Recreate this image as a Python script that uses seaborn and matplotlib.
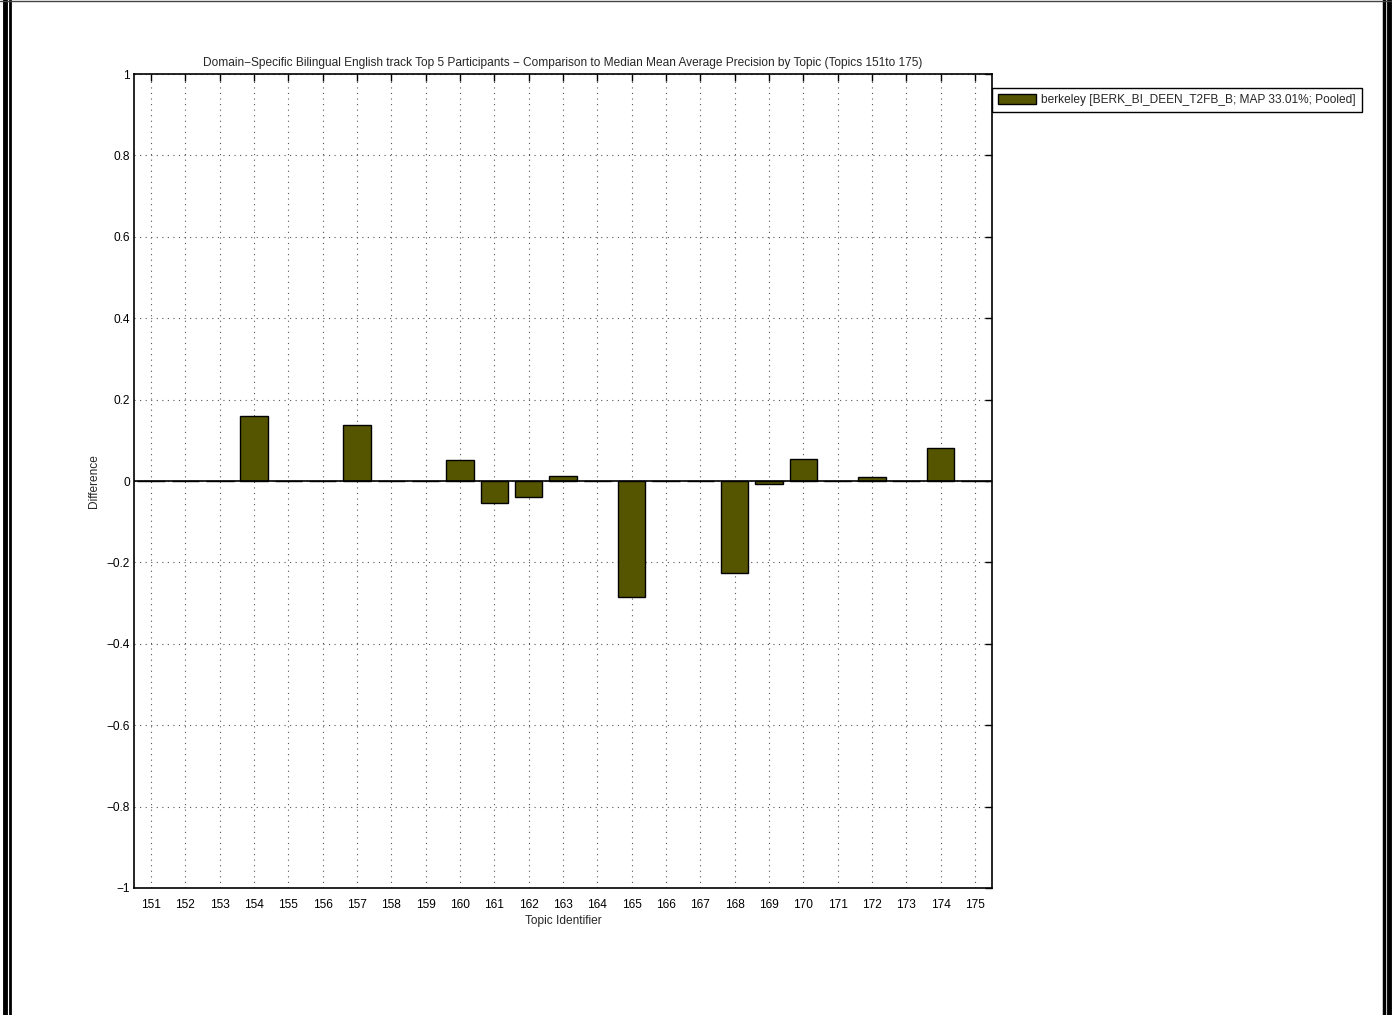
#!/usr/bin/env python3
"""Per-topic difference to median MAP, Domain-Specific bilingual English track."""

import matplotlib
matplotlib.use("Agg")
import matplotlib.pyplot as plt
from matplotlib.lines import Line2D
from matplotlib.patches import Patch
from matplotlib.ticker import FuncFormatter
import pandas as pd
import seaborn as sns

TOPICS = list(range(151, 176))
DIFFERENCE = [
    0.0, 0.0, 0.0, 0.159, 0.0, 0.0, 0.138, 0.0, 0.0, 0.052,
    -0.053, -0.040, 0.013, 0.0, -0.285, 0.0, 0.0, -0.227, -0.007, 0.055,
    0.0, 0.011, 0.0, 0.080, 0.0,
]
RUN_LABEL = "berkeley [BERK_BI_DEEN_T2FB_B; MAP 33.01%; Pooled]"
TITLE = ("Domain\u2212Specific Bilingual English track Top 5 Participants \u2212 "
         "Comparison to Median Mean Average Precision by Topic (Topics 151to 175)")
BAR_COLOUR = "#555500"

W, H = 1392, 1015
FS = 8.6

sns.set_style("white")
plt.rcParams["font.family"] = ["Liberation Sans", "DejaVu Sans"]
plt.rcParams["font.size"] = FS

df = pd.DataFrame({"topic": [str(t) for t in TOPICS], "diff": DIFFERENCE})

fig = plt.figure(figsize=(W / 100, H / 100), dpi=100)
ax = fig.add_axes([134 / W, 1 - 888 / H, (992 - 134) / W, (888 - 74) / H])

sns.barplot(data=df, x="topic", y="diff", color=BAR_COLOUR, saturation=1,
            width=0.8, edgecolor="black", linewidth=1, ax=ax, zorder=3)

ax.axhline(0, color="black", lw=1.2, zorder=4)
ax.set_xlim(-0.5, len(TOPICS) - 0.5)
ax.set_ylim(-1, 1)
ax.set_yticks([i / 5 for i in range(-5, 6)])
ax.yaxis.set_major_formatter(FuncFormatter(lambda v, _: f"{v:g}".replace("-", "\u2212")))

ax.grid(True, ls=(0, (1, 4)), color="#555555", lw=0.8, zorder=0)
ax.tick_params(direction="in", length=5, width=1, top=True, right=True,
               labelsize=FS, colors="black")
ax.tick_params(axis="x", pad=8)
ax.tick_params(axis="y", pad=3)
for s in ax.spines.values():
    s.set_visible(True)
    s.set_color("black")
    s.set_linewidth(1.2)

ax.set_xlabel("Topic Identifier", fontsize=FS, labelpad=3)
ax.set_ylabel("Difference", fontsize=FS, labelpad=5)
ax.set_title(TITLE, fontsize=FS, pad=6)

handle = Patch(facecolor=BAR_COLOUR, edgecolor="black", lw=1)
leg = ax.legend([handle], [RUN_LABEL], loc="upper left",
                bbox_to_anchor=(992 / W, 1 - 88 / H), bbox_transform=fig.transFigure,
                borderaxespad=0, fancybox=False, framealpha=1, fontsize=FS,
                handlelength=3.2, handleheight=0.9, handletextpad=0.4,
                borderpad=0.5)
leg.get_frame().set_edgecolor("black")
leg.get_frame().set_linewidth(1)

# page frame of the original export
for x0, lw in [(5 / W, 3.5), (10 / W, 2), (1383.5 / W, 2.5), (1388.5 / W, 3.5)]:
    fig.add_artist(Line2D([x0, x0], [0, 1], transform=fig.transFigure, color="black", lw=lw))
fig.add_artist(Line2D([0, 1], [0.9995, 0.9995], transform=fig.transFigure, color="#444444", lw=1))

fig.savefig("out.png", dpi=100)
